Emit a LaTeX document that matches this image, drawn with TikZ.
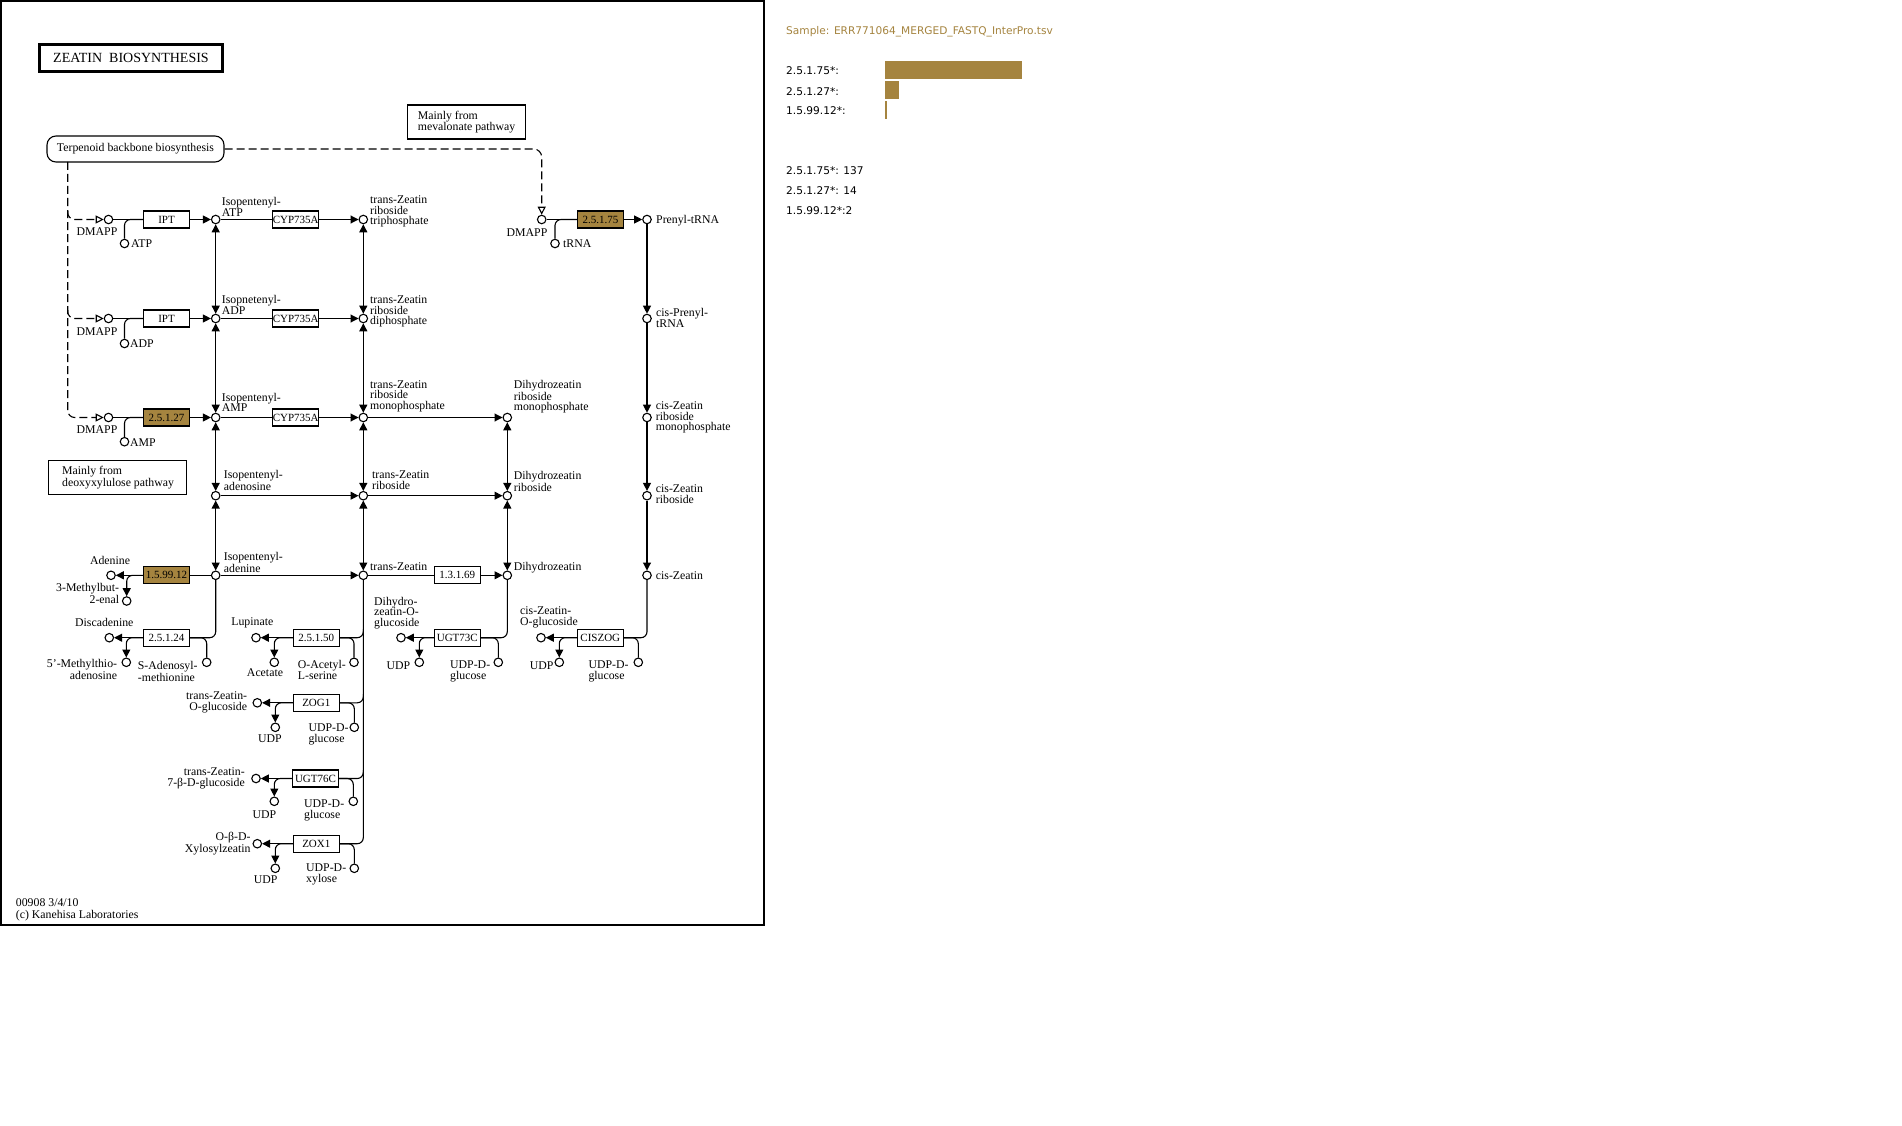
\documentclass[tikz,border=0pt]{standalone}
\usepackage{fontspec}
\setmainfont{Liberation Serif}
\newfontfamily\panelfont{DejaVu Sans}
\usetikzlibrary{arrows.meta}
\definecolor{keggold}{RGB}{165,132,63}
\begin{document}
\begin{tikzpicture}[x=1pt,y=-1pt,
  fa/.tip={Triangle[length=8pt,width=8pt]},
  oa/.tip={Triangle[open,length=8pt,width=8pt]},
  rx/.style={line width=1.1pt},
  dashes/.style={line width=1.1pt,dash pattern=on 8pt off 4pt},
  cpd/.style={circle,draw,line width=1.1pt,fill=white,inner sep=0pt,minimum size=8.5pt},
  enz/.style={rectangle,draw,line width=1.1pt,fill=white,inner sep=0pt,minimum width=46pt,minimum height=17pt,font=\fontsize{11}{11}\selectfont},
  enzhit/.style={enz,fill=keggold},
  lbl/.style={inner sep=0pt,align=left,font=\fontsize{11.8}{10.5}\selectfont},
  lblr/.style={lbl,align=right},
  ptxt/.style={inner sep=0pt,anchor=west,font=\panelfont\fontsize{10.6}{12}\selectfont}]
\useasboundingbox (0,0) rectangle (1902,1126);
\fill[white] (0,0) rectangle (1902,1126);

% frame of the map
\draw[line width=1.6pt] (0.8,0.8) rectangle (764,925);

% title and pathway notes
\node[draw,line width=3pt,minimum width=183pt,minimum height=27pt,inner sep=0pt,
      font=\fontsize{14}{14}\selectfont] (title) at (131,57.8) {ZEATIN\ \ BIOSYNTHESIS};
\node[draw,line width=1.1pt,rounded corners=9pt,minimum width=177pt,minimum height=26pt,inner sep=0pt,
      font=\fontsize{11.8}{11}\selectfont] (terp) at (135.5,149) {Terpenoid backbone biosynthesis};
\node[draw,line width=1.1pt,minimum width=118pt,minimum height=34pt,inner sep=0pt] (meva) at (466.5,122) {};
\node[lbl,anchor=west] (mevaT) at (417.7,122) {Mainly from\\mevalonate pathway};
\node[draw,line width=1.1pt,minimum width=138pt,minimum height=34pt,inner sep=0pt] (deox) at (117.3,477.3) {};
\node[lbl,anchor=west] (deoxT) at (62,477.3) {Mainly from\\deoxyxylulose pathway};

% ---------- compounds ----------
% row 1
\node[cpd] (dmappA) at (108.5,219.5) {};
\node[cpd] (atp) at (124.5,243.5) {};
\node[cpd] (ipAtp) at (215.7,219.5) {};
\node[cpd] (tzrTP) at (363.3,219.5) {};
\node[cpd] (dmappD) at (541.7,219.5) {};
\node[cpd] (trna) at (555,243.5) {};
\node[cpd] (prenyl) at (647,219.5) {};
% row 2
\node[cpd] (dmappB) at (108.5,318.5) {};
\node[cpd] (adp) at (124.5,343.5) {};
\node[cpd] (ipAdp) at (215.7,318.5) {};
\node[cpd] (tzrDP) at (363.3,318.5) {};
\node[cpd] (cisPrenyl) at (647,318.5) {};
% row 3
\node[cpd] (dmappC) at (108.5,417.5) {};
\node[cpd] (amp) at (124.5,441.7) {};
\node[cpd] (ipAmp) at (215.7,417.5) {};
\node[cpd] (tzrMP) at (363.3,417.5) {};
\node[cpd] (dhzrMP) at (507.3,417.5) {};
\node[cpd] (czrMP) at (647,417.5) {};
% row 4
\node[cpd] (ipAdo) at (215.7,495.7) {};
\node[cpd] (tzr) at (363.3,495.7) {};
\node[cpd] (dhzr) at (507.3,495.7) {};
\node[cpd] (czr) at (647,495.7) {};
% row 5
\node[cpd] (adenine) at (111,575.3) {};
\node[cpd] (mbut) at (126.7,601) {};
\node[cpd] (ipAde) at (215.7,575.3) {};
\node[cpd] (tz) at (363.3,575.3) {};
\node[cpd] (dhz) at (507.3,575.3) {};
\node[cpd] (cz) at (647,575.3) {};
% row 6
\node[cpd] (discad) at (109.3,637.7) {};
\node[cpd] (mta) at (126.3,662.3) {};
\node[cpd] (sam) at (206.7,662.3) {};
\node[cpd] (lupinate) at (256,637.7) {};
\node[cpd] (acetate) at (274.3,662.3) {};
\node[cpd] (oas) at (354,662.3) {};
\node[cpd] (dhzOG) at (401,637.7) {};
\node[cpd] (udpA) at (419.3,662.3) {};
\node[cpd] (udpgA) at (498.3,662.3) {};
\node[cpd] (czOG) at (541,637.7) {};
\node[cpd] (udpB) at (559.3,662.3) {};
\node[cpd] (udpgB) at (638.3,662.3) {};
% glycosylation rows
\node[cpd] (tzOG) at (257.3,702.8) {};
\node[cpd] (udpC) at (275.3,727.3) {};
\node[cpd] (udpgC) at (354.3,727.3) {};
\node[cpd] (tz7G) at (256,778.5) {};
\node[cpd] (udpD) at (274.3,801.3) {};
\node[cpd] (udpgD) at (353.3,801.3) {};
\node[cpd] (oxz) at (257.3,843.7) {};
\node[cpd] (udpE) at (275.3,868.3) {};
\node[cpd] (udpx) at (354.3,868.3) {};

% ---------- enzymes ----------
\node[enz] (iptA) at (166.5,219.5) {IPT};
\node[enz] (iptB) at (166.5,318.5) {IPT};
\node[enzhit] (ecA) at (166.5,417.5) {2.5.1.27};
\node[enz] (cypA) at (295.7,219.5) {CYP735A};
\node[enz] (cypB) at (295.7,318.5) {CYP735A};
\node[enz] (cypC) at (295.7,417.5) {CYP735A};
\node[enzhit] (ecB) at (600.5,219.5) {2.5.1.75};
\node[enz] (ecC) at (457.3,575.3) {1.3.1.69};
\node[enzhit] (ecD) at (166.5,575.3) {1.5.99.12};
\node[enz] (ecE) at (166.5,637.7) {2.5.1.24};
\node[enz] (ecF) at (316.3,637.7) {2.5.1.50};
\node[enz] (ugtA) at (457.3,637.7) {UGT73C};
\node[enz] (ciszog) at (600.3,637.7) {CISZOG};
\node[enz] (zog) at (316.3,702.8) {ZOG1};
\node[enz] (ugtB) at (315.5,778.5) {UGT76C};
\node[enz] (zox) at (316.3,843.7) {ZOX1};

% ---------- compound labels ----------
\node[lbl] at (97,231.5) {DMAPP};
\node[lbl] at (97,331.5) {DMAPP};
\node[lbl] at (97,430) {DMAPP};
\node[lbl] at (527,233) {DMAPP};
\node[lbl,anchor=west] at (131,244) {ATP};
\node[lbl,anchor=west] at (130,343.5) {ADP};
\node[lbl,anchor=west] at (130,442.5) {AMP};
\node[lbl,anchor=west] at (563,243.5) {tRNA};
\node[lbl,anchor=west] at (221.7,206.7) {Isopentenyl-\\ATP};
\node[lbl,anchor=west] at (221.7,305) {Isopnetenyl-\\ADP};
\node[lbl,anchor=west] at (221.7,402.3) {Isopentenyl-\\AMP};
\node[lbl,anchor=west] at (223.7,480.3) {Isopentenyl-\\adenosine};
\node[lbl,anchor=west] at (223.7,562.3) {Isopentenyl-\\adenine};
\node[lbl,anchor=west] at (370,211.5) {trans-Zeatin\\riboside\\triphosphate};
\node[lbl,anchor=west] at (370,311.7) {trans-Zeatin\\riboside\\diphosphate};
\node[lbl,anchor=west] at (370,396) {trans-Zeatin\\riboside\\monophosphate};
\node[lbl,anchor=west] at (513.7,396.8) {Dihydrozeatin\\riboside\\monophosphate};
\node[lbl,anchor=west] at (372,480.3) {trans-Zeatin\\riboside};
\node[lbl,anchor=west] at (513.7,481.3) {Dihydrozeatin\\riboside};
\node[lbl,anchor=west] at (370,567) {trans-Zeatin};
\node[lbl,anchor=west] at (513.7,567.7) {Dihydrozeatin};
\node[lbl,anchor=west] at (656,220.5) {Prenyl-tRNA};
\node[lbl,anchor=west] at (656,318) {cis-Prenyl-\\tRNA};
\node[lbl,anchor=west] at (655.7,417.8) {cis-Zeatin\\riboside\\monophosphate};
\node[lbl,anchor=west] at (655.7,494.3) {cis-Zeatin\\riboside};
\node[lbl,anchor=west] at (655.7,575.3) {cis-Zeatin};
\node[lbl] at (110,560.7) {Adenine};
\node[lblr,anchor=east] at (119.3,593.3) {3-Methylbut-\\2-enal};
\node[lbl] at (104.3,622.7) {Discadenine};
\node[lblr,anchor=east] at (117.3,669.5) {5'-Methylthio-\\adenosine};
\node[lbl,anchor=west] at (137.7,671.3) {S-Adenosyl-\\-methionine};
\node[lbl] at (252.3,622.7) {Lupinate};
\node[lbl] at (265,672.7) {Acetate};
\node[lbl,anchor=west] at (297.7,670.2) {O-Acetyl-\\L-serine};
\node[lblr,anchor=east] at (247.3,702.2) {trans-Zeatin-\\O-glucoside};
\node[lbl] at (270,738.3) {UDP};
\node[lbl,anchor=west] at (308.3,734.5) {UDP-D-\\glucose};
\node[lblr,anchor=east] at (245,778.2) {trans-Zeatin-\\7-β-D-glucoside};
\node[lbl] at (264.3,814.3) {UDP};
\node[lbl,anchor=west] at (304,810.5) {UDP-D-\\glucose};
\node[lblr,anchor=east] at (250.7,843.8) {O-β-D-\\Xylosylzeatin};
\node[lbl] at (265.7,879.3) {UDP};
\node[lbl,anchor=west] at (306,874.2) {UDP-D-\\xylose};
\node[lbl,anchor=west] at (374,612.8) {Dihydro-\\zeatin-O-\\glucoside};
\node[lbl] at (398.3,665.3) {UDP};
\node[lbl,anchor=west] at (450,671.3) {UDP-D-\\glucose};
\node[lbl,anchor=west] at (520,617.5) {cis-Zeatin-\\O-glucoside};
\node[lbl] at (541.7,665.3) {UDP};
\node[lbl,anchor=west] at (588.3,671.3) {UDP-D-\\glucose};
\node[lbl,anchor=west,font=\fontsize{11.8}{11.4}\selectfont] at (15.7,910) {00908 3/4/10\\(c) Kanehisa Laboratories};

% ---------- supply from terpenoid backbone biosynthesis ----------
\coordinate (dashTop) at (67.7,162);
\coordinate (dashA) at (67.7,211);
\coordinate (dashB) at (67.7,310);
\draw[dashes,rounded corners=7pt,-oa] (dashTop) |- (dmappC.west);
\draw[dashes,rounded corners=7pt,-oa] (dashA) |- (dmappA.west);
\draw[dashes,rounded corners=7pt,-oa] (dashB) |- (dmappB.west);
\draw[dashes,rounded corners=8pt,-oa] (terp.east) -| (dmappD.north);

% ---------- prenylation ----------
\draw[rx] (dmappA) -- (iptA);
\draw[rx,rounded corners=6pt] (atp.north) |- (iptA.west);
\draw[rx,-fa] (iptA) -- (ipAtp);
\draw[rx] (dmappB) -- (iptB);
\draw[rx,rounded corners=6pt] (adp.north) |- (iptB.west);
\draw[rx,-fa] (iptB) -- (ipAdp);
\draw[rx] (dmappC) -- (ecA);
\draw[rx,rounded corners=6pt] (amp.north) |- (ecA.west);
\draw[rx,-fa] (ecA) -- (ipAmp);
\draw[rx] (dmappD) -- (ecB);
\draw[rx,rounded corners=6pt] (trna.north) |- (ecB.west);
\draw[rx,-fa] (ecB) -- (prenyl);

% ---------- hydroxylation ----------
\draw[rx] (ipAtp) -- (cypA);
\draw[rx,-fa] (cypA) -- (tzrTP);
\draw[rx] (ipAdp) -- (cypB);
\draw[rx,-fa] (cypB) -- (tzrDP);
\draw[rx] (ipAmp) -- (cypC);
\draw[rx,-fa] (cypC) -- (tzrMP);
\draw[rx,-fa] (ipAdo) -- (tzr);
\draw[rx,-fa] (ipAde) -- (tz);

% ---------- interconversions ----------
\draw[rx,fa-fa] (ipAtp) -- (ipAdp);
\draw[rx,fa-fa] (ipAdp) -- (ipAmp);
\draw[rx,fa-fa] (ipAmp) -- (ipAdo);
\draw[rx,fa-fa] (ipAdo) -- (ipAde);
\draw[rx,fa-fa] (tzrTP) -- (tzrDP);
\draw[rx,fa-fa] (tzrDP) -- (tzrMP);
\draw[rx,fa-fa] (tzrMP) -- (tzr);
\draw[rx,fa-fa] (tzr) -- (tz);
\draw[rx,fa-fa] (dhzrMP) -- (dhzr);
\draw[rx,fa-fa] (dhzr) -- (dhz);
\draw[rx,-fa] (tzrMP) -- (dhzrMP);
\draw[rx,-fa] (tzr) -- (dhzr);
\draw[rx] (tz) -- (ecC);
\draw[rx,-fa] (ecC) -- (dhz);

% ---------- cis branch ----------
\draw[rx,-fa] (prenyl) -- (cisPrenyl);
\draw[rx,-fa] (cisPrenyl) -- (czrMP);
\draw[rx,-fa] (czrMP) -- (czr);
\draw[rx,-fa] (czr) -- (cz);

% ---------- degradation and conjugation ----------
\draw[rx] (ipAde) -- (ecD);
\draw[rx,-fa] (ecD) -- (adenine);
\draw[rx,-fa,rounded corners=6pt] (ecD.west) -| (mbut.north);

\draw[rx,rounded corners=6pt] (ipAde.south) |- (ecE.east);
\draw[rx,-fa] (ecE) -- (discad);
\draw[rx,-fa,rounded corners=6pt] (ecE.west) -| (mta.north);
\draw[rx,rounded corners=6pt] (ecE.east) -| (sam.north);

\coordinate (trunkA) at (363.3,629);
\coordinate (trunkB) at (363.3,694);
\coordinate (trunkC) at (363.3,770);
\draw[rx,rounded corners=6pt] (tz.south) |- (zox.east);
\draw[rx,rounded corners=6pt] (trunkA) |- (ecF.east);
\draw[rx,rounded corners=6pt] (trunkB) |- (zog.east);
\draw[rx,rounded corners=6pt] (trunkC) |- (ugtB.east);

\draw[rx,-fa] (ecF) -- (lupinate);
\draw[rx,-fa,rounded corners=6pt] (ecF.west) -| (acetate.north);
\draw[rx,rounded corners=6pt] (ecF.east) -| (oas.north);

\draw[rx,-fa] (zog) -- (tzOG);
\draw[rx,-fa,rounded corners=6pt] (zog.west) -| (udpC.north);
\draw[rx,rounded corners=6pt] (zog.east) -| (udpgC.north);

\draw[rx,-fa] (ugtB) -- (tz7G);
\draw[rx,-fa,rounded corners=6pt] (ugtB.west) -| (udpD.north);
\draw[rx,rounded corners=6pt] (ugtB.east) -| (udpgD.north);

\draw[rx,-fa] (zox) -- (oxz);
\draw[rx,-fa,rounded corners=6pt] (zox.west) -| (udpE.north);
\draw[rx,rounded corners=6pt] (zox.east) -| (udpx.north);

\draw[rx,rounded corners=6pt] (dhz.south) |- (ugtA.east);
\draw[rx,-fa] (ugtA) -- (dhzOG);
\draw[rx,-fa,rounded corners=6pt] (ugtA.west) -| (udpA.north);
\draw[rx,rounded corners=6pt] (ugtA.east) -| (udpgA.north);

\draw[rx,rounded corners=6pt] (cz.south) |- (ciszog.east);
\draw[rx,-fa] (ciszog) -- (czOG);
\draw[rx,-fa,rounded corners=6pt] (ciszog.west) -| (udpB.north);
\draw[rx,rounded corners=6pt] (ciszog.east) -| (udpgB.north);

% ---------- sample panel ----------
\node[ptxt,text=keggold] (sample) at (786,31.7) {Sample: ERR771064\_MERGED\_FASTQ\_InterPro.tsv};
\node[ptxt] (kA) at (786,70.7) {2.5.1.75*:};
\node[ptxt] (kB) at (786,91.3) {2.5.1.27*:};
\node[ptxt] (kC) at (786,110.7) {1.5.99.12*:};
\fill[keggold] (885,61) rectangle (1022,79);
\fill[keggold] (885,81) rectangle (899,99);
\fill[keggold] (885,101) rectangle (887,119);
\node[ptxt] (vA) at (786,170.7) {2.5.1.75*: 137};
\node[ptxt] (vB) at (786,191) {2.5.1.27*: 14};
\node[ptxt] (vC) at (786,210.7) {1.5.99.12*:2};
\end{tikzpicture}
\end{document}
